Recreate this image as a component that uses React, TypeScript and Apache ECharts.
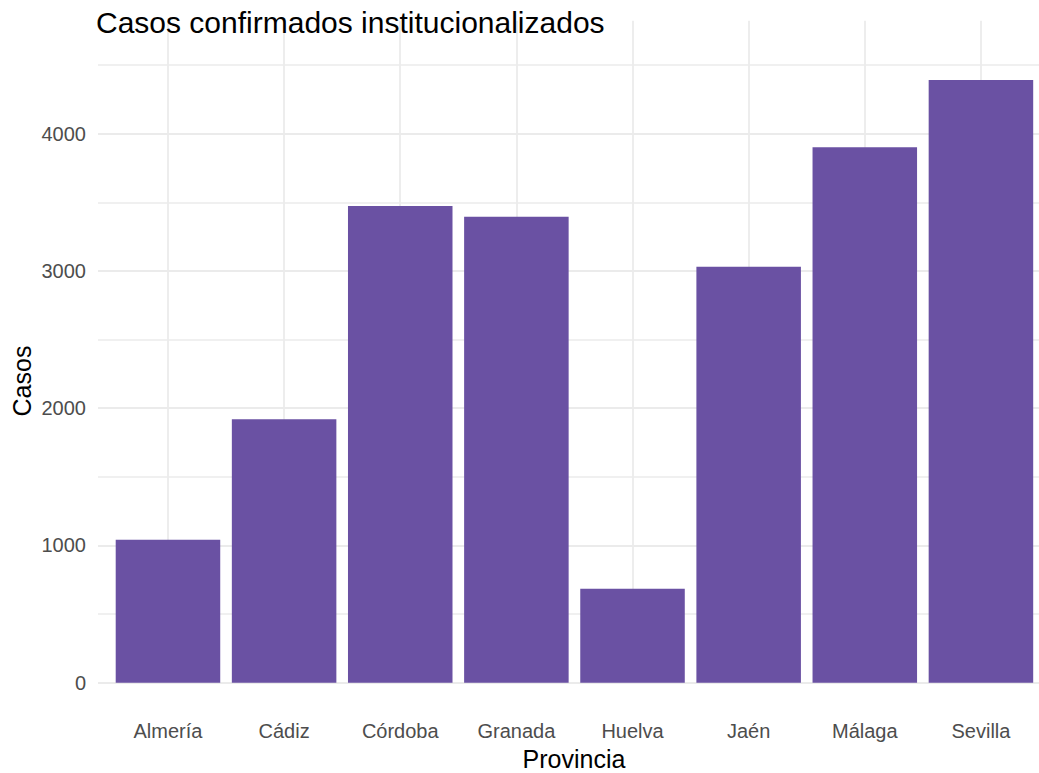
import React, { useEffect, useRef } from "react";
import * as echarts from "echarts";

const categories = ["Almería", "Cádiz", "Córdoba", "Granada", "Huelva", "Jaén", "Málaga", "Sevilla"];
const casos = [1042, 1919, 3473, 3395, 685, 3031, 3901, 4391];
const yTicks = [0, 1000, 2000, 3000, 4000];
const titleText = "Casos confirmados institucionalizados";
const xTitle = "Provincia";
const yTitle = "Casos";

const FONT = "Liberation Sans, Arial, sans-serif";
const GRID_COLOR = "#EBEBEB";

export default function App() {
  const ref = useRef<HTMLDivElement>(null);
  useEffect(() => {
    if (!ref.current) return;
    const chart = echarts.init(ref.current, undefined, { renderer: "svg" });
    const yMax = 4610;
    chart.setOption({
      animation: false,
      backgroundColor: "#FFFFFF",
      textStyle: { fontFamily: FONT },
      title: {
        text: titleText,
        left: 96,
        top: 7,
        padding: 0,
        textStyle: { fontSize: 30, fontWeight: "normal", color: "#000000", fontFamily: FONT },
      },
      grid: [
        { left: 98, top: 50, width: 952, height: 632.7, containLabel: false },
        { left: 109.9, top: 50, width: 929.6, height: 632.7, containLabel: false },
      ],
      xAxis: [
        { type: "value", gridIndex: 0, show: false, min: 0, max: 1 },
        {
          type: "category",
          gridIndex: 1,
          data: categories,
          offset: 29,
          axisLine: { show: false },
          axisTick: {
            show: true,
            inside: true,
            alignWithLabel: true,
            length: 662,
            lineStyle: { color: GRID_COLOR, width: 1.8 },
          },
          splitLine: { show: false },
          axisLabel: {
            color: "#4D4D4D",
            fontSize: 20,
            fontFamily: FONT,
            margin: 9,
            interval: 0,
          },
        },
      ],
      yAxis: [
        {
          type: "value",
          gridIndex: 0,
          min: 0,
          max: yMax,
          interval: 500,
          axisLine: { show: false },
          axisTick: { show: false },
          axisLabel: {
            color: "#4D4D4D",
            fontSize: 20,
            fontFamily: FONT,
            margin: 12,
            showMaxLabel: false,
            formatter: (v: number) => (yTicks.includes(v) ? String(v) : ""),
          },
          splitLine: {
            show: true,
            showMaxLine: false,
            lineStyle: { color: [GRID_COLOR, "#F0F0F0"], width: 1.8 },
          },
        },
        { type: "value", gridIndex: 1, min: 0, max: yMax, show: false, splitLine: { show: false } },
      ],
      graphic: [
        {
          type: "text",
          x: 22,
          y: 381,
          rotation: Math.PI / 2,
          style: {
            text: yTitle,
            fontSize: 25,
            fontFamily: FONT,
            fill: "#000000",
            align: "center",
            verticalAlign: "middle",
          },
        },
        {
          type: "text",
          x: 574,
          y: 746,
          style: {
            text: xTitle,
            fontSize: 25,
            fontFamily: FONT,
            fill: "#000000",
            align: "center",
            verticalAlign: "top",
          },
        },
      ],
      series: [
        {
          type: "bar",
          xAxisIndex: 1,
          yAxisIndex: 1,
          data: casos,
          barWidth: "90%",
          itemStyle: { color: "#6A51A3" },
        },
      ],
    });
    return () => chart.dispose();
  }, []);
  return (
    <div
      ref={ref}
      style={{ position: "fixed", left: 0, top: 0, width: 1039, height: 773 }}
    />
  );
}
